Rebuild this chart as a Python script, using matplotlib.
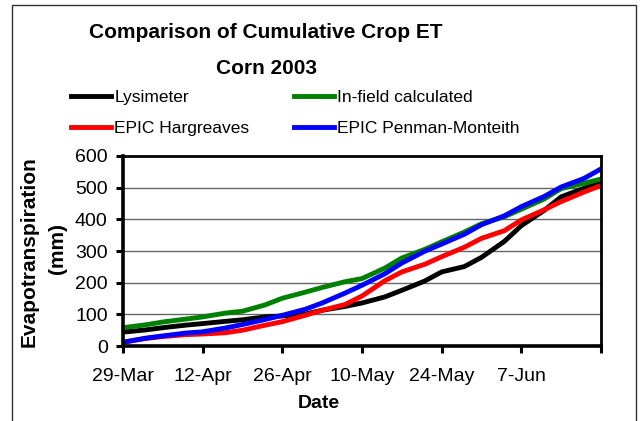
import pandas as pd
import matplotlib
matplotlib.use('Agg')
import matplotlib.pyplot as plt
from matplotlib.patches import Rectangle

plt.rcParams['font.family'] = ['Liberation Sans', 'DejaVu Sans']

# dados (ET acumulada, mm)
dates = pd.to_datetime([
    '2003-03-29', '2003-04-02', '2003-04-05', '2003-04-09', '2003-04-12',
    '2003-04-16', '2003-04-19', '2003-04-23', '2003-04-26', '2003-04-30',
    '2003-05-03', '2003-05-07', '2003-05-10', '2003-05-14', '2003-05-17',
    '2003-05-21', '2003-05-24', '2003-05-28', '2003-05-31', '2003-06-04',
    '2003-06-07', '2003-06-11', '2003-06-14', '2003-06-18', '2003-06-21'])

lysimeter = [44, 51, 58, 66, 71, 78, 83, 92, 95, 101, 113, 125, 136, 155, 176,
             205, 234, 251, 280, 330, 380, 428, 471, 498, 514]
infield = [58, 67, 76, 85, 92, 104, 110, 130, 151, 170, 185, 203, 213, 246, 278,
           305, 329, 360, 386, 408, 432, 464, 497, 514, 527]
hargreaves = [12, 24, 30, 36, 38, 42, 50, 66, 77, 97, 113, 131, 158, 206, 234,
              258, 282, 312, 340, 364, 398, 430, 456, 486, 507]
penman = [12, 25, 32, 41, 45, 57, 68, 84, 97, 116, 136, 167, 192, 228, 262,
          299, 322, 353, 383, 411, 440, 472, 502, 529, 559]

tick_dates = pd.to_datetime(['2003-03-29', '2003-04-12', '2003-04-26', '2003-05-10',
                             '2003-05-24', '2003-06-07', '2003-06-21'])
tick_labels = ['29-Mar', '12-Apr', '26-Apr', '10-May', '24-May', '7-Jun', '']

fig = plt.figure(figsize=(6.4, 4.21), dpi=100)
ax = fig.add_axes([0.1922, 0.178, 0.7468, 0.4515])

lw = 3.5
l1, = ax.plot(dates, lysimeter, color='black', lw=lw, label='Lysimeter')
l2, = ax.plot(dates, infield, color='#008000', lw=lw, label='In-field calculated')
l3, = ax.plot(dates, hargreaves, color='#ff0000', lw=lw, label='EPIC Hargreaves')
l4, = ax.plot(dates, penman, color='#0000ff', lw=lw, label='EPIC Penman-Monteith')

ax.set_xlim(tick_dates[0], tick_dates[-1])
ax.set_ylim(0, 600)
ax.set_yticks(range(0, 601, 100))
ax.set_xticks(tick_dates)
ax.set_xticklabels(tick_labels)
ax.tick_params(axis='both', labelsize=14, width=2.2, length=5, direction='out')
ax.tick_params(axis='x', pad=11)
ax.tick_params(axis='y', pad=6)
ax.grid(axis='y', color='#666666', lw=1)
ax.set_axisbelow(True)
for s in ['left', 'bottom']:
    ax.spines[s].set_linewidth(2.6)
for s in ['top', 'right']:
    ax.spines[s].set_linewidth(2.0)

fig.text(266 / 640, 1 - 33 / 421, 'Comparison of Cumulative Crop ET', ha='center', va='center',
         fontsize=15, fontweight='bold')
fig.text(266 / 640, 1 - 68 / 421, 'Corn 2003', ha='center', va='center',
         fontsize=15, fontweight='bold')
fig.text(319 / 640, 1 - 403 / 421, 'Date', ha='center', va='center',
         fontsize=14, fontweight='bold')
fig.text(29 / 640, 1 - 252 / 421, 'Evapotranspiration', ha='center', va='center',
         rotation=90, fontsize=15, fontweight='bold')
fig.text(57 / 640, 1 - 249 / 421, '(mm)', ha='center', va='center',
         rotation=90, fontsize=15, fontweight='bold')

fig.legend([l1, l3, l2, l4], [l1.get_label(), l3.get_label(), l2.get_label(), l4.get_label()],
           ncol=2, frameon=False, fontsize=12.5, loc='upper left',
           bbox_to_anchor=(71 / 640, 1 - 90 / 421), borderaxespad=0, borderpad=0,
           handlelength=2.3, handletextpad=0.2, labelspacing=0.92, columnspacing=2.55)

fig.add_artist(Rectangle((12 / 640, -0.02), 624 / 640, 1.02 - 5 / 421,
                         transform=fig.transFigure, fill=False, lw=1, ec='#333333'))

fig.savefig('out.png', dpi=100)
